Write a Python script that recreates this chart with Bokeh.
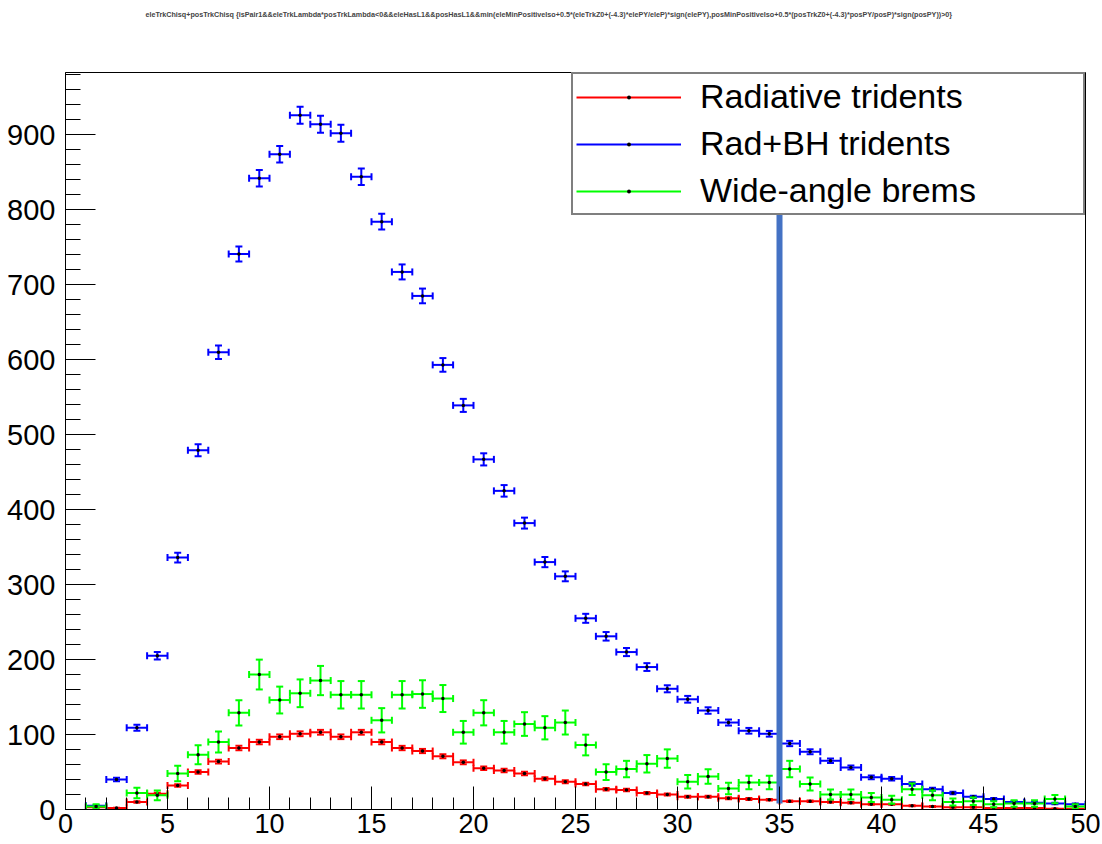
import numpy as np
from bokeh.plotting import figure
from bokeh.models import ColumnDataSource, FixedTicker, Legend, LegendItem, Range1d, Title
from bokeh.embed import file_html
from bokeh.resources import INLINE

# ---- data (bins of width 1 from 0 to 50) ----
bin_low = list(range(50))

radiative = [0, 3, 2, 10, 21, 32, 50, 64, 82, 90, 97, 101, 103, 97, 103, 90, 82, 78, 71, 63,
             55, 52, 48, 41, 37, 34, 27, 26, 22, 20, 17, 17, 15, 14, 13, 11, 11, 10, 9, 7,
             7, 5, 4, 3, 3, 2, 2, 2, 1, 1]
radiative_err = [0, 0.5, 0.4, 1.0, 1.4, 1.8, 2.2, 2.5, 2.9, 3.0, 3.1, 3.2, 3.2, 3.1, 3.2, 3.0, 2.9, 2.8, 2.7, 2.5,
                 2.3, 2.3, 2.2, 2.0, 1.9, 1.8, 1.6, 1.6, 1.5, 1.4, 1.3, 1.3, 1.2, 1.2, 1.1, 1.0, 1.0, 1.0, 0.9, 0.8,
                 0.8, 0.7, 0.6, 0.5, 0.5, 0.4, 0.4, 0.4, 0.3, 0.3]

radbh = [0, 5, 40, 109, 205, 336, 479, 610, 741, 842, 874, 926, 914, 902, 844, 784, 717, 685, 593, 539,
         467, 425, 382, 330, 311, 255, 231, 210, 190, 161, 147, 132, 116, 105, 101, 88, 77, 65, 56, 43,
         41, 34, 27, 22, 17, 14, 10, 9, 8, 7]
radbh_err = [0, 0.8, 2.4, 3.9, 5.0, 6.5, 8.0, 9.0, 10.0, 10.9, 11.1, 11.4, 11.3, 11.2, 10.9, 10.5, 10.0, 9.8, 9.1, 8.7,
             8.1, 7.7, 7.3, 6.8, 6.6, 6.0, 5.7, 5.4, 5.2, 4.7, 4.5, 4.3, 4.0, 3.8, 3.8, 3.5, 3.3, 3.0, 2.8, 2.5,
             2.4, 2.2, 1.9, 1.8, 1.5, 1.4, 1.2, 1.1, 1.1, 1.0]

wab = [0, 4, 0, 22, 19, 48, 73, 90, 129, 180, 146, 155, 172, 153, 153, 119, 153, 154, 148, 103,
       129, 103, 114, 109, 116, 86, 50, 54, 61, 68, 37, 44, 28, 36, 36, 54, 34, 20, 20, 16,
       13, 27, 19, 10, 11, 7, 8, 8, 14, 4]
wab_err = [0, 3.0, 0, 7.0, 6.5, 10.3, 12.7, 14.0, 16.8, 19.9, 17.9, 18.5, 19.5, 18.3, 18.3, 16.2, 18.3, 18.4, 18.0, 15.1,
           16.8, 15.1, 15.8, 15.5, 16.0, 13.8, 10.5, 10.9, 11.6, 12.2, 9.0, 9.8, 7.8, 8.9, 8.9, 10.9, 8.6, 6.6, 6.6, 5.9,
           5.3, 7.7, 6.5, 4.7, 4.9, 3.9, 4.2, 4.2, 5.5, 3.0]

series_names = ["Radiative tridents", "Rad+BH tridents", "Wide-angle brems"]
series_colors = ["#FF0000", "#0000FF", "#00FF00"]

title_text = ("eleTrkChisq+posTrkChisq {isPair1&&eleTrkLambda*posTrkLambda<0&&eleHasL1&&posHasL1&&"
              "min(eleMinPositiveIso+0.5*(eleTrkZ0+(-4.3)*elePY/eleP)*sign(elePY),"
              "posMinPositiveIso+0.5*(posTrkZ0+(-4.3)*posPY/posP)*sign(posPY))>0}")

cut_x = 35.0
cut_y0, cut_y1 = 8, 797

x_ticks = list(range(0, 51, 5))
x_minor = list(range(0, 51))
y_ticks = list(range(0, 1000, 100))
y_minor = list(range(0, 981, 20))

# ---- figure ----
p = figure(width=1100, height=842, output_backend="svg", toolbar_location=None,
           x_range=Range1d(0, 50), y_range=Range1d(0, 983),
           min_border_left=65, min_border_right=15, min_border_top=72, min_border_bottom=33)
p.background_fill_color = "white"
p.border_fill_color = "white"
p.outline_line_color = "black"
p.outline_line_width = 1
p.xgrid.visible = False
p.ygrid.visible = False

# real title at the top, spacer title between it and the frame
p.title.text = title_text
p.title.text_font = "Liberation Sans"
p.title.text_font_size = "7.2px"
p.title.text_font_style = "bold"
p.title.align = "left"
p.title.offset = 80
p.title.standoff = 15
p.add_layout(Title(text=" ", text_font="Liberation Sans", text_font_size="7.2px",
                   standoff=35), "above")

p.xaxis.ticker = FixedTicker(ticks=x_ticks, minor_ticks=x_minor)
p.yaxis.ticker = FixedTicker(ticks=y_ticks, minor_ticks=y_minor)
for ax, maj, mnr, fs in [(p.xaxis, 23, 12, "27px"), (p.yaxis, 30, 15, "29px")]:
    ax.major_tick_in = maj
    ax.major_tick_out = 0
    ax.minor_tick_in = mnr
    ax.minor_tick_out = 0
    ax.axis_line_color = "black"
    ax.major_tick_line_color = "black"
    ax.minor_tick_line_color = "black"
    ax.major_label_text_font = "Liberation Sans"
    ax.major_label_text_font_size = fs
    ax.major_label_text_color = "black"
p.xaxis.major_label_standoff = 4
p.yaxis.major_label_standoff = 10


def draw(vals, errs, color):
    keep = [i for i, v in enumerate(vals) if v > 0]
    src = ColumnDataSource(dict(
        x0=[bin_low[i] for i in keep],
        x1=[bin_low[i] + 1 for i in keep],
        xc=[bin_low[i] + 0.5 for i in keep],
        y=[vals[i] for i in keep],
        ylo=[vals[i] - errs[i] for i in keep],
        yhi=[vals[i] + errs[i] for i in keep],
    ))
    h = p.segment(x0="x0", y0="y", x1="x1", y1="y", source=src, line_color=color, line_width=2)
    p.segment(x0="xc", y0="ylo", x1="xc", y1="yhi", source=src, line_color=color, line_width=2)
    for yc in ["ylo", "yhi"]:
        p.scatter(x="xc", y=yc, source=src, marker="dash", size=7, line_color=color, line_width=2)
    for xc in ["x0", "x1"]:
        p.scatter(x=xc, y="y", source=src, marker="dash", angle=np.pi / 2, size=7,
                  line_color=color, line_width=2)
    m = p.scatter(x="xc", y="y", source=src, marker="dot", size=14,
                  fill_color="black", line_color="black", line_width=1)
    return h, m


items = []
for name, vals, errs, col in zip(series_names, [radiative, radbh, wab],
                                 [radiative_err, radbh_err, wab_err], series_colors):
    h, m = draw(vals, errs, col)
    items.append(LegendItem(label=name, renderers=[h, m]))

# cut line
p.segment(x0=[cut_x], y0=[cut_y0], x1=[cut_x], y1=[cut_y1], line_color="#4472C4", line_width=6)

legend = Legend(items=items, location="top_right", margin=0, padding=3, spacing=8,
                glyph_width=105, glyph_height=38, label_height=38, label_standoff=19,
                label_width=380,
                label_text_font="Liberation Sans", label_text_font_size="34px",
                label_text_color="black",
                border_line_color="black", border_line_width=2,
                background_fill_color="white", background_fill_alpha=1)
p.add_layout(legend)

open("out.html", "w").write(file_html(p, INLINE))
